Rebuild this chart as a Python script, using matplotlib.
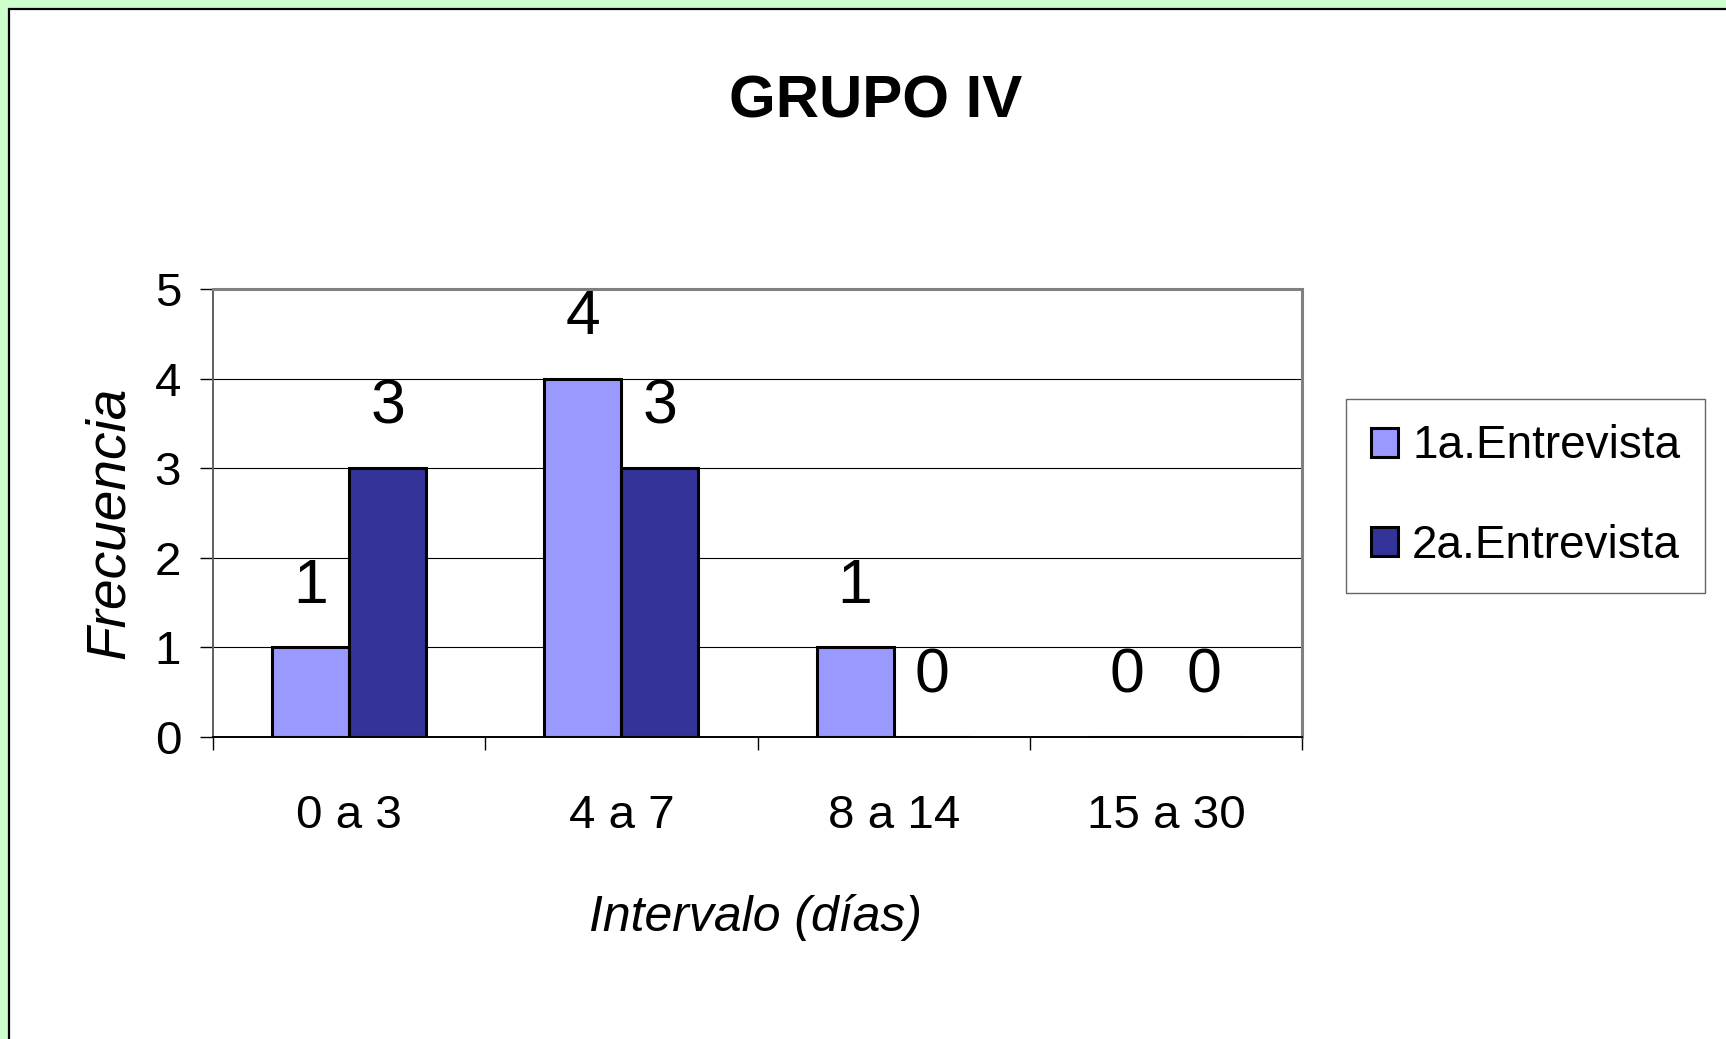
import matplotlib
matplotlib.use("Agg")
import matplotlib.pyplot as plt
from matplotlib import font_manager as fm
from matplotlib.patches import Rectangle
import numpy as np

categories = ["0 a 3", "4 a 7", "8 a 14", "15 a 30"]
serie1 = [1, 4, 1, 0]
serie2 = [3, 3, 0, 0]
series_names = ["1a.Entrevista", "2a.Entrevista"]
yticks = [0, 1, 2, 3, 4, 5]

def has_font(name):
    try:
        fm.findfont(fm.FontProperties(family=name), fallback_to_default=False)
        return True
    except Exception:
        return False

NARROW = "Liberation Sans Narrow" if has_font("Liberation Sans Narrow") else None
BASE = "Liberation Sans"
NF = NARROW or BASE
scale = 1.0 if NARROW else 0.9

W, H = 1726, 1039
fig = plt.figure(figsize=(W / 100, H / 100), dpi=100)
fig.patch.set_facecolor("#CCFFCC")

# white panel with black border (top/left visible only)
panel = Rectangle((9 / W, -0.1), 1.2, 1.1 - 9 / H, transform=fig.transFigure,
                  facecolor="white", edgecolor="black", linewidth=1.6, zorder=-5)
fig.patches.append(panel)

ax = fig.add_axes([213 / W, 1 - 737 / H, (1302 - 213) / W, (737 - 289) / H])
ax.set_zorder(2)
ax.set_facecolor("white")

x = np.arange(len(categories))
bw = 0.283
b1 = ax.bar(x - bw / 2, serie1, bw, color="#9999FF", edgecolor="black", linewidth=2.2,
            label=series_names[0], zorder=3)
b2 = ax.bar(x + bw / 2, serie2, bw, color="#333399", edgecolor="black", linewidth=2.2,
            label=series_names[1], zorder=3)

for bars, vals in ((b1, serie1), (b2, serie2)):
    for r, v in zip(bars, vals):
        ax.annotate(str(v), (r.get_x() + r.get_width() / 2, r.get_height()),
                    xytext=(0, 32), textcoords="offset points", ha="center", va="baseline",
                    fontsize=50 * scale, family=NF, zorder=4, annotation_clip=False)

ax.set_xlim(-0.5, len(categories) - 0.5)
ax.set_ylim(0, 5)
ax.set_yticks(yticks)
ax.set_yticklabels([str(t) for t in yticks], family=NF, fontsize=38 * scale)
ax.tick_params(axis="y", length=9.4, width=1, pad=13.5, color="black")
ax.yaxis.grid(True, color="black", linewidth=0.8, zorder=1)
ax.set_axisbelow(True)

ax.set_xticks(np.arange(-0.5, len(categories), 1.0))
ax.set_xticklabels([])
ax.set_xticks(x, minor=True)
ax.set_xticklabels(categories, minor=True, family=NF, fontsize=38 * scale)
ax.tick_params(axis="x", which="major", length=9.4, width=1, color="black")
ax.tick_params(axis="x", which="minor", length=0, pad=41)

for s in ("top", "right"):
    ax.spines[s].set_color("#808080")
    ax.spines[s].set_linewidth(2.2)
ax.spines["left"].set_color("#606060")
ax.spines["left"].set_linewidth(1.4)
ax.spines["bottom"].set_color("black")
ax.spines["bottom"].set_linewidth(1.4)

fig.text(876 / W, 1 - 117 / H, "GRUPO IV", ha="center", va="baseline",
         fontsize=48 * scale, fontweight="bold", family=NF)
fig.text(110 / W, 1 - 523 / H, "Frecuencia", rotation=90, ha="center", va="center",
         fontsize=44 * scale, fontstyle="italic", family=NF)
fig.text(755 / W, 1 - 931 / H, "Intervalo (días)", ha="center", va="baseline",
         fontsize=40 * scale, fontstyle="italic", family=NF)

leg = fig.legend(handles=[b1, b2], labels=series_names, loc="center",
                 bbox_to_anchor=(1525.5 / W, 1 - 496 / H), frameon=True, fancybox=False,
                 prop={"family": NF, "size": 33}, handlelength=0.6, handleheight=0.6,
                 handletextpad=0.3, labelspacing=1.2, borderpad=0.55)
leg.get_frame().set_edgecolor("#404040")
leg.get_frame().set_linewidth(1.0)

fig.savefig("out.png", dpi=100, facecolor=fig.get_facecolor())
